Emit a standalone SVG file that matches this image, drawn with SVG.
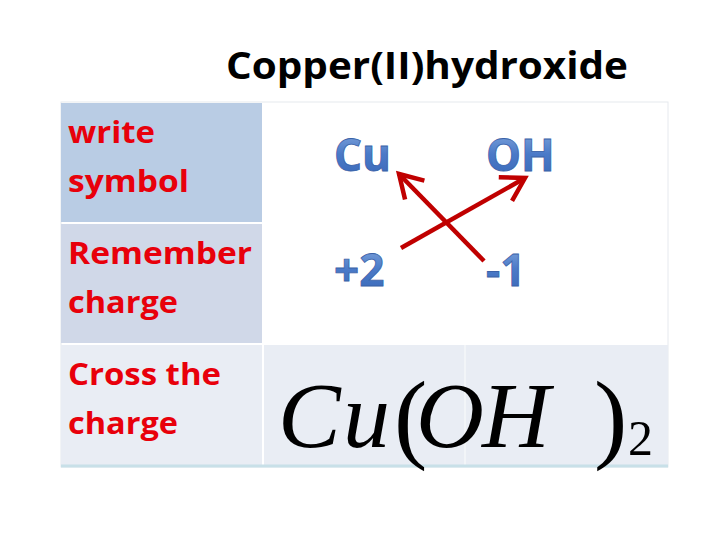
<svg xmlns="http://www.w3.org/2000/svg" width="728" height="546" viewBox="0 0 728 546">
<defs>
<style>
.lbl{font-family:"Open Sans","Liberation Sans",sans-serif;font-weight:bold;font-size:31px;fill:#e8000b}
.sym{font-family:"Open Sans","Liberation Sans",sans-serif;font-weight:bold;font-size:44px;fill:url(#bg);stroke:#3a62a8;stroke-width:0.8}
.ar{stroke:#c00000;stroke-width:4.5;fill:none}
</style>
<linearGradient id="bg" x1="0" y1="0" x2="0" y2="1"><stop offset="0" stop-color="#8fb0e0"/><stop offset="0.5" stop-color="#4a7ac8"/><stop offset="1" stop-color="#3766b5"/></linearGradient>
<marker id="ah" markerWidth="8" markerHeight="8" refX="6" refY="4" orient="auto" markerUnits="strokeWidth"><path d="M1,1 L6,4 L1,7" fill="none" stroke="#c00000" stroke-width="1"/></marker>
</defs>
<rect width="728" height="546" fill="#fff"/>
<text x="226" y="79" textLength="402" lengthAdjust="spacingAndGlyphs" font-family="Open Sans,Liberation Sans,sans-serif" font-weight="bold" font-size="37" fill="#000">Copper(II)hydroxide</text>
<g id="table">
<rect x="61" y="102" width="607" height="365" fill="#fff" stroke="#e6e9ee" stroke-width="1"/>
<rect x="61" y="103" width="201" height="119" fill="#b9cce4"/>
<rect x="61" y="224" width="201" height="119" fill="#d0d8e8"/>
<rect x="61" y="345" width="201" height="120" fill="#e9edf4"/>
<rect x="264" y="345" width="404" height="120" fill="#e9edf4"/>
<line x1="465" y1="345" x2="465" y2="465" stroke="#f5f7fa" stroke-width="1.5"/>
<line x1="61" y1="466" x2="668" y2="466" stroke="#c8e0e8" stroke-width="3"/>
</g>
<g id="n-write"><text class="lbl" x="68" y="143" textLength="87" lengthAdjust="spacingAndGlyphs">write</text><text class="lbl" x="68" y="192" textLength="121" lengthAdjust="spacingAndGlyphs">symbol</text></g>
<g id="n-remember"><text class="lbl" x="68" y="264" textLength="184" lengthAdjust="spacingAndGlyphs">Remember</text><text class="lbl" x="68" y="313" textLength="110" lengthAdjust="spacingAndGlyphs">charge</text></g>
<g id="n-cross"><text class="lbl" x="68" y="385" textLength="153" lengthAdjust="spacingAndGlyphs">Cross the</text><text class="lbl" x="68" y="434" textLength="110" lengthAdjust="spacingAndGlyphs">charge</text></g>
<g id="n-cu"><text class="sym" x="334" y="171">Cu</text></g>
<g id="n-oh"><text class="sym" x="486" y="171">OH</text></g>
<g id="n-p2"><text class="sym" x="334" y="286">+2</text></g>
<g id="n-m1"><text class="sym" x="486" y="286">-1</text></g>
<g id="connectors">
<line class="ar" x1="401" y1="248" x2="525" y2="178" marker-end="url(#ah)"/>
<line class="ar" x1="484" y1="261" x2="399" y2="174" marker-end="url(#ah)"/>
</g>
<g id="n-formula" font-family="Liberation Serif,serif" fill="#000">
<text y="447" font-style="italic" font-size="94"><tspan x="278">C</tspan><tspan x="343">u</tspan></text>
<text y="450" font-size="100"><tspan x="394">(</tspan><tspan x="594">)</tspan></text>
<text y="447" font-style="italic" font-size="94"><tspan x="416">O</tspan><tspan x="482">H</tspan></text>
<text x="628" y="455" font-size="50">2</text>
</g>
</svg>
